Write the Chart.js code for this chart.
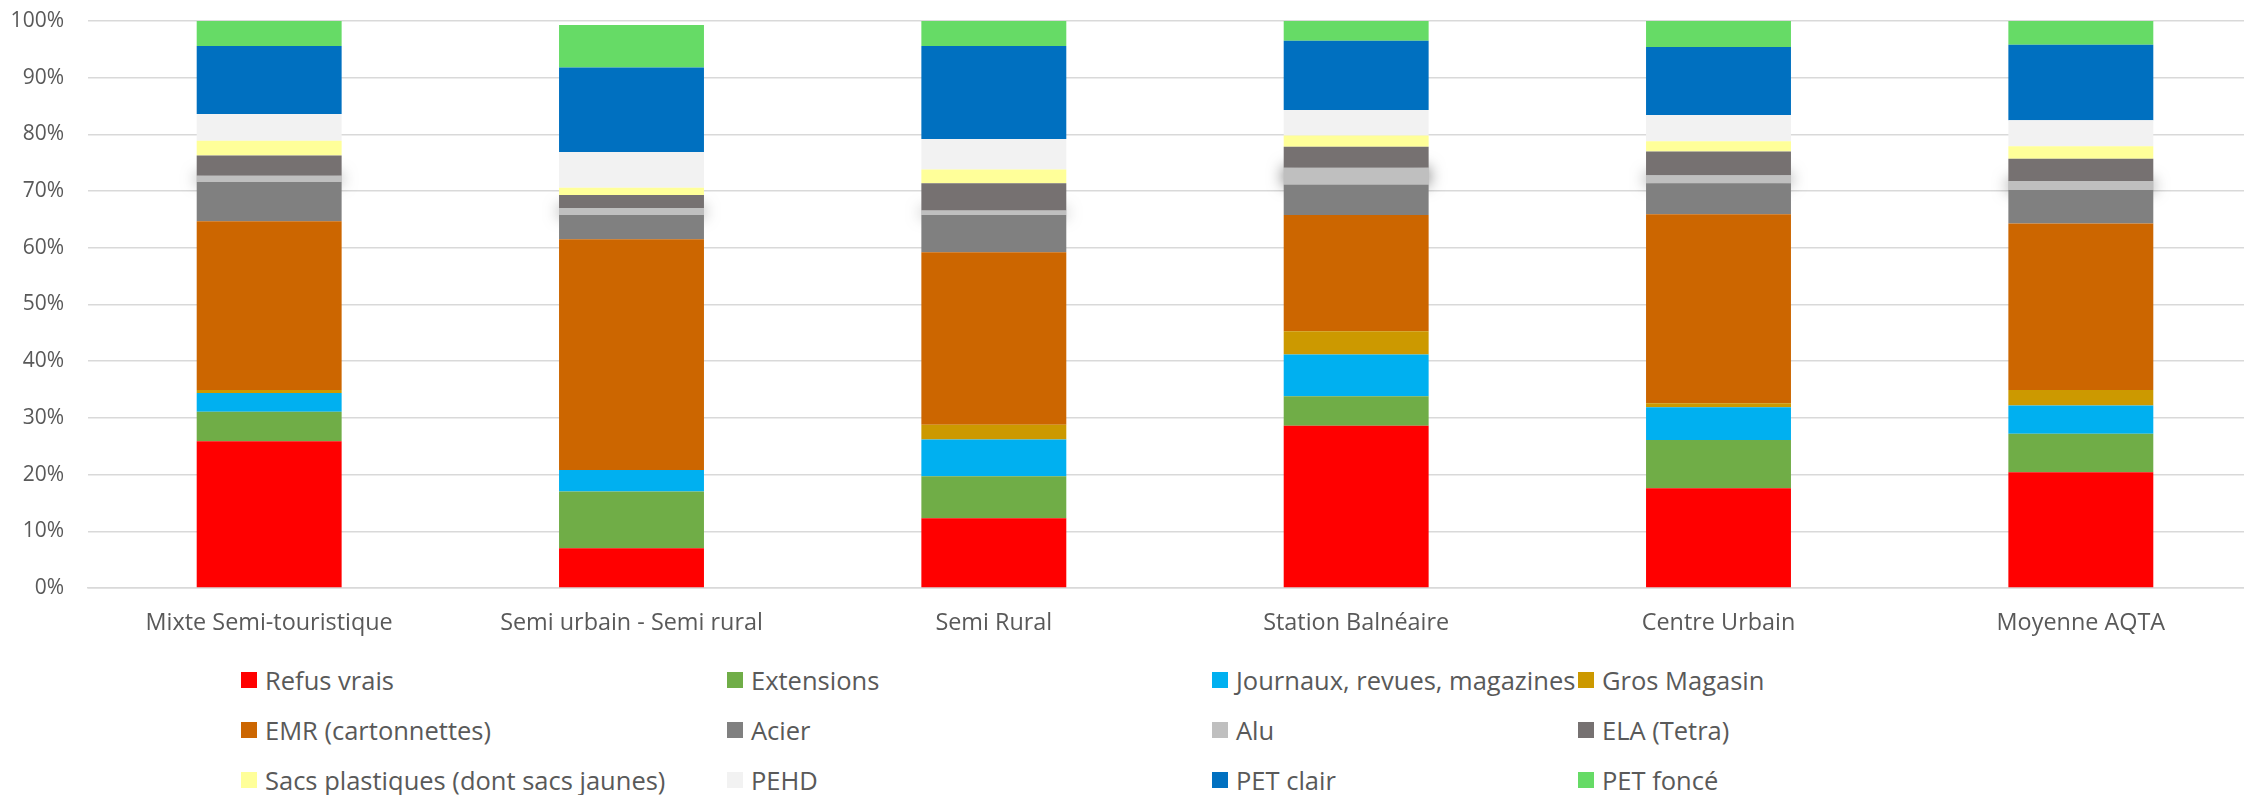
<!DOCTYPE html>
<html>
<head>
<meta charset="utf-8">
<script src="https://cdn.jsdelivr.net/npm/chart.js@4.4.1/dist/chart.umd.min.js"></script>
<style>
  html, body { margin: 0; padding: 0; background: #fff; overflow: hidden; }
  #wrap { position: relative; width: 2244px; height: 795px; overflow: hidden; }
  #box { position: absolute; left: 0; top: 0; width: 2262px; height: 650px; }
  .item { position: absolute; display: flex; align-items: center; transform: translateY(-50%);
          font: 25.5px "Open Sans"; color: #595959; white-space: nowrap; }
  .item .sw { width: 16px; height: 16px; margin-right: 8px; flex: none; }
</style>
</head>
<body>
<div id="wrap">
  <div id="box"><canvas id="myChart"></canvas></div>
  <div id="legend"></div>
</div>
<script>
// categories + series (percent of total)
const categories = ["Mixte Semi-touristique", "Semi urbain - Semi rural", "Semi Rural", "Station Balnéaire", "Centre Urbain", "Moyenne AQTA"];
const seriesNames = ["Refus vrais", "Extensions", "Journaux, revues, magazines", "Gros Magasin",
  "EMR (cartonnettes)", "Acier", "Alu", "ELA (Tetra)",
  "Sacs plastiques (dont sacs jaunes)", "PEHD", "PET clair", "PET foncé"];
const refusVrais  = [25.9, 7.0, 12.3, 28.6, 17.6, 20.4];
const extensions  = [5.2, 10.0, 7.4, 5.2, 8.5, 6.8];
const journaux    = [3.3, 3.8, 6.5, 7.4, 5.8, 5.0];
const grosMagasin = [0.5, 0, 2.6, 4.1, 0.7, 2.7];
const emr         = [29.8, 40.7, 30.4, 20.5, 33.3, 29.4];
const acier       = [6.9, 4.3, 6.6, 5.3, 5.5, 5.9];
const alu         = [1.1, 1.2, 0.8, 3.0, 1.4, 1.6];
const ela         = [3.6, 2.3, 4.8, 3.7, 4.2, 3.9];
const sacs        = [2.6, 1.3, 2.4, 2.0, 1.8, 2.2];
const pehd        = [4.7, 6.3, 5.4, 4.5, 4.6, 4.6];
const petClair    = [12.0, 14.9, 16.4, 12.2, 12.0, 13.3];
const petFonce    = [4.4, 7.5, 4.4, 3.5, 4.6, 4.2];
const yTicks      = [0, 10, 20, 30, 40, 50, 60, 70, 80, 90, 100];

const seriesValues = [refusVrais, extensions, journaux, grosMagasin, emr, acier, alu, ela, sacs, pehd, petClair, petFonce];
const colors = ["#FF0000", "#70AD47", "#00B0F0", "#CC9900", "#CC6600", "#808080",
  "#BFBFBF", "#767171", "#FFFF99", "#F2F2F2", "#0070C0", "#66DB66"];

const ctx = document.getElementById("myChart");
const textColor = "#595959";

// shadow behind the Alu band (only shows at the bar sides)
const aluShadow = {
  id: "aluShadow",
  beforeDatasetsDraw: (chart) => {
    const meta = chart.getDatasetMeta(seriesNames.indexOf("Alu"));
    const c = chart.ctx;
    c.save();
    c.shadowColor = "rgba(0,0,0,0.6)";
    c.shadowBlur = 16;
    c.fillStyle = "#BFBFBF";
    meta.data.forEach((bar) => {
      const p = bar.getProps(["x", "y", "base", "width"], true);
      c.fillRect(p.x - p.width / 2, Math.min(p.y, p.base), p.width, Math.abs(p.base - p.y));
    });
    c.restore();
  },
};

const data = {
  labels: categories,
  datasets: seriesNames.map((name, i) => ({
    label: name,
    data: seriesValues[i],
    backgroundColor: colors[i],
    borderWidth: 0,
    barPercentage: 0.4,
    categoryPercentage: 1,
  })),
};

const config = {
  type: "bar",
  data,
  options: {
    responsive: true,
    maintainAspectRatio: false,
    animation: false,
    layout: { padding: { top: 21, right: 0, bottom: 0, left: 0 } },
    plugins: { legend: { display: false }, tooltip: { enabled: false } },
    scales: {
      x: {
        stacked: true,
        grid: { display: false, drawTicks: false },
        border: { display: true, color: "#D9D9D9", width: 1.5 },
        ticks: { color: textColor, font: { family: "Open Sans", size: 23.4 }, padding: 21, maxRotation: 0 },
        afterFit: (scale) => { scale.height = 62; },
      },
      y: {
        stacked: true,
        min: 0,
        max: 100,
        afterBuildTicks: (scale) => { scale.ticks = yTicks.map((v) => ({ value: v })); },
        grid: { color: "#D9D9D9", lineWidth: 1.5, drawTicks: false },
        border: { display: false },
        ticks: { color: textColor, font: { family: "Open Sans", size: 21 }, padding: 24,
                 callback: (v) => v + "%" },
        afterFit: (scale) => {
          scale.width = 88;
          scale.paddingTop = 0;
          scale.paddingBottom = 0;
        },
      },
    },
  },
  plugins: [aluShadow],
};

new Chart(ctx, config);

// legend grid, 4 columns x 3 rows
const colLefts = [241, 727, 1212, 1578];
const rowCenters = [680, 730, 780];
const legend = document.getElementById("legend");
seriesNames.forEach((name, i) => {
  const el = document.createElement("div");
  el.className = "item";
  el.style.left = colLefts[i % 4] + "px";
  el.style.top = rowCenters[Math.floor(i / 4)] + "px";
  el.innerHTML = '<span class="sw" style="background:' + colors[i] + '"></span><span></span>';
  el.lastChild.textContent = name;
  legend.appendChild(el);
});
</script>
</body>
</html>
